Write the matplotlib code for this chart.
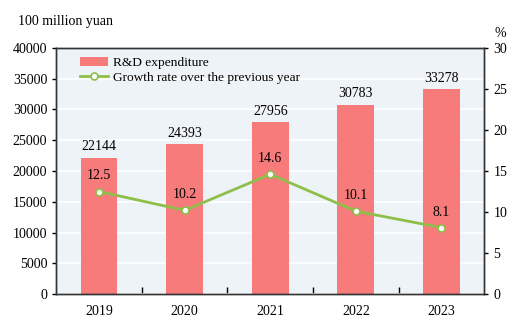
import matplotlib.pyplot as plt
import numpy as np

plt.rcParams['font.family'] = ['Liberation Serif', 'DejaVu Serif']
plt.rcParams['font.size'] = 10

# 数据
years = ['2019', '2020', '2021', '2022', '2023']
expenditure = [22144, 24393, 27956, 30783, 33278]
growth = [12.5, 10.2, 14.6, 10.1, 8.1]

bar_color = '#F77B7B'
line_color = '#8DBF4A'
bg_color = '#EDF3F6'

fig = plt.figure(figsize=(5.31, 3.33), dpi=100)
ax1 = fig.add_axes([0.106, 0.117, 0.806, 0.739])
ax1.set_facecolor(bg_color)
x = np.arange(len(years))

ax1.set_axisbelow(True)
ax1.grid(axis='y', color='white', linewidth=1.2)
bars = ax1.bar(x, expenditure, width=0.43, color=bar_color, label='R&D expenditure', zorder=2)
for xi, v in zip(x, expenditure):
    ax1.text(xi, v + 700, str(v), ha='center', va='bottom', fontsize=10)

ax1.set_xlim(-0.5, 4.5)
ax1.set_ylim(0, 40000)
ax1.set_yticks(np.arange(0, 40001, 5000))
ax1.set_xticks(x)
ax1.set_xticklabels(years, fontsize=10)
ax1.tick_params(axis='x', length=0, pad=8)
ax1.set_xticks(np.arange(0.5, 4.5, 1), minor=True)
ax1.tick_params(axis='x', which='minor', direction='in', length=5, width=1)
ax1.tick_params(axis='y', direction='out', length=3, width=1, labelsize=10)
for s in ax1.spines.values():
    s.set_color('#333333')
    s.set_linewidth(1)

ax2 = ax1.twinx()
ax2.plot(x, growth, color=line_color, linewidth=2, marker='o', markersize=5,
         markerfacecolor='white', markeredgecolor=line_color, markeredgewidth=1.2,
         label='Growth rate over the previous year', zorder=3)
for xi, v in zip(x, growth):
    ax2.text(xi, v + 1.1, f'{v:.1f}', ha='center', va='bottom', fontsize=10)
ax2.set_ylim(0, 30)
ax2.set_yticks(np.arange(0, 31, 5))
ax2.tick_params(axis='y', direction='out', length=3, width=1, labelsize=10)
for s in ax2.spines.values():
    s.set_color('#333333')
    s.set_linewidth(1)

h1, l1 = ax1.get_legend_handles_labels()
h2, l2 = ax2.get_legend_handles_labels()
ax2.legend(h1 + h2, l1 + l2, loc='upper left', frameon=False, fontsize=9.6,
           bbox_to_anchor=(0.035, 1.0), handlelength=2.1, handletextpad=0.4,
           labelspacing=0.2, borderaxespad=0.25)

fig.text(0.034, 0.935, '100 million yuan', fontsize=10, va='center')
fig.text(0.943, 0.9, '%', fontsize=10, ha='center', va='center')

plt.savefig('out.png', dpi=100)
